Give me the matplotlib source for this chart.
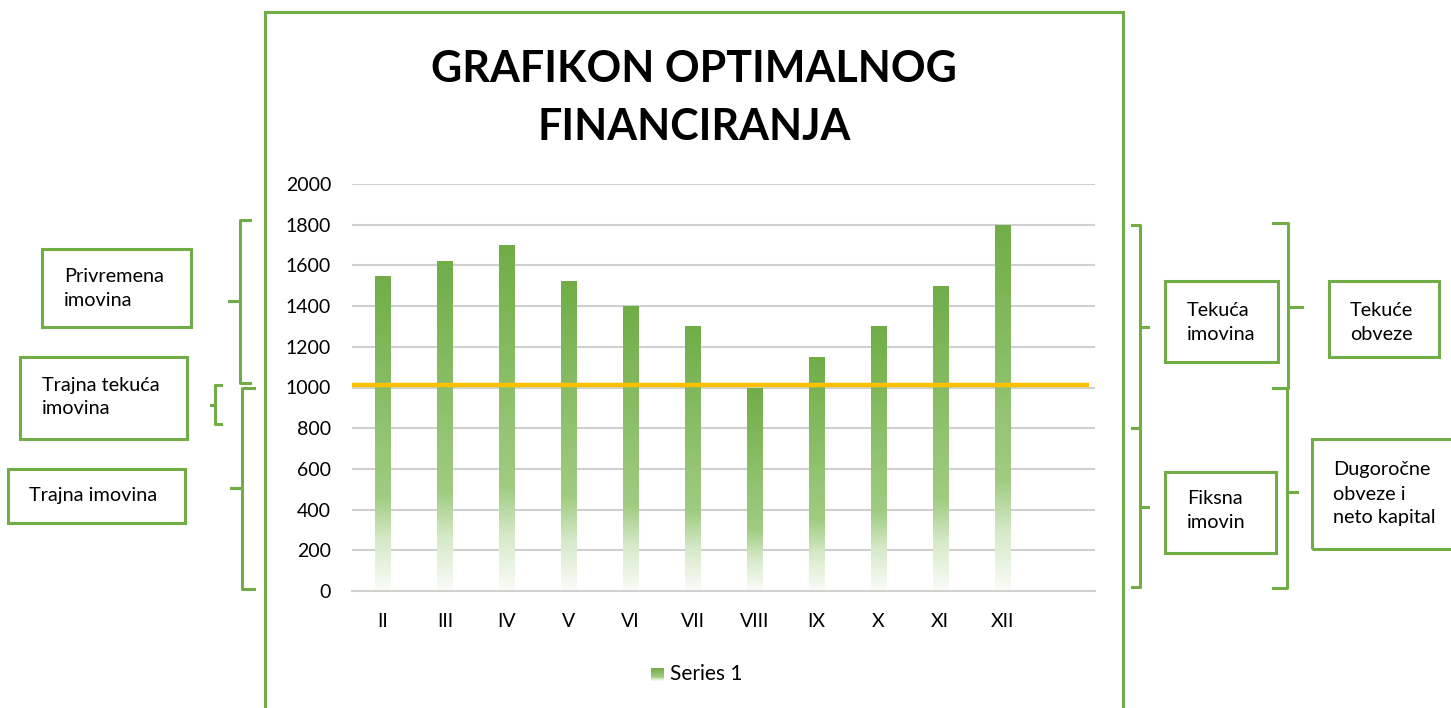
import matplotlib
matplotlib.use("Agg")
import matplotlib.pyplot as plt
import numpy as np
from matplotlib.patches import Rectangle
from matplotlib.colors import LinearSegmentedColormap
from matplotlib.lines import Line2D

plt.rcParams['font.family'] = ['Lato', 'DejaVu Sans']

# ---- data ----
categories = ["II", "III", "IV", "V", "VI", "VII", "VIII", "IX", "X", "XI", "XII", ""]
values = [1550, 1620, 1700, 1525, 1400, 1300, 1000, 1150, 1300, 1500, 1800, 0]
threshold = 1010
yticks = [0, 200, 400, 600, 800, 1000, 1200, 1400, 1600, 1800, 2000]
series_name = "Series 1"
title = "GRAFIKON OPTIMALNOG\nFINANCIRANJA"
left_boxes = ["Privremena\nimovina", "Trajna tekuća\nimovina", "Trajna imovina"]
right_boxes = ["Tekuća\nimovina", "Fiksna\nimovin", "Tekuće\nobveze", "Dugoročne\nobveze i\nneto kapital"]

GREEN = "#70AD47"
W, H = 1451, 708
fig = plt.figure(figsize=(W / 100, H / 100), dpi=100)

def fx(px):
    return px / W

def fy(py):
    return 1 - py / H

# gradient colormap (top -> bottom)
grad = LinearSegmentedColormap.from_list(
    "g", [(0.0, (112/255, 173/255, 71/255)),
          (0.70, (160/255, 204/255, 130/255)),
          (0.84, (214/255, 233/255, 200/255)),
          (1.0, (250/255, 252/255, 248/255))])
gimg = np.linspace(0, 1, 256).reshape(-1, 1)

# ---- main axes ----
ax = fig.add_axes([fx(352), fy(591), fx(1095 - 352), (591 - 184) / H])
x = np.arange(len(categories))
bars = ax.bar(x, values, width=0.245, color="none", edgecolor="none", zorder=2)
for b in bars:
    h = b.get_height()
    if h <= 0:
        continue
    x0 = b.get_x()
    im = ax.imshow(gimg, cmap=grad, aspect="auto", origin="upper",
                   extent=[x0, x0 + b.get_width(), 0, h], zorder=2, interpolation="bilinear")
    im.set_clip_path(b)
ax.set_xlim(-0.5, len(categories) - 0.5)
ax.set_ylim(0, 2000)
ax.set_yticks(yticks)
ax.set_yticklabels([str(t) for t in yticks])
ax.set_xticks(x)
ax.set_xticklabels(categories)
ax.tick_params(axis="both", length=0, labelsize=14, colors="#000000")
ax.tick_params(axis="y", pad=15)
ax.tick_params(axis="x", pad=16)
ax.grid(axis="y", color="#d0d0d0", linewidth=1.5, zorder=0)
ax.set_axisbelow(True)
for s in ["top", "right", "left"]:
    ax.spines[s].set_visible(False)
ax.spines["bottom"].set_color("#d0d0d0")
ax.spines["bottom"].set_linewidth(1.5)
ax.plot([-0.5, 11.4], [threshold, threshold], color="#FFC000", linewidth=3.2, zorder=3,
        solid_capstyle="butt")

# ---- chart border ----
fig.patches.append(Rectangle((fx(265), fy(712)), fx(1123 - 265), (712 - 12) / H,
                             transform=fig.transFigure, fill=False, edgecolor=GREEN,
                             linewidth=2.2))

# ---- title ----
fig.text(fx(694), fy(98), title, ha="center", va="center", fontsize=31,
         fontweight="bold", linespacing=1.55)

# ---- legend ----
lax = fig.add_axes([fx(651), fy(681), fx(13), 13 / H])
lax.imshow(gimg, cmap=grad, aspect="auto", extent=[0, 1, 0, 1])
lax.set_axis_off()
fig.text(fx(670), fy(674), series_name, ha="left", va="center", fontsize=15)

# ---- annotation boxes ----
def box(x0, y0, x1, y1, text, tx, tyc):
    fig.patches.append(Rectangle((fx(x0), fy(y1)), fx(x1 - x0), (y1 - y0) / H,
                                 transform=fig.transFigure, fill=False,
                                 edgecolor=GREEN, linewidth=2.2))
    fig.text(fx(tx), fy(tyc), text, ha="left", va="center", fontsize=14.3,
             linespacing=1.5)

box(42, 249, 191, 327, left_boxes[0], 64, 288)
box(20, 357, 187, 439, left_boxes[1], 42, 397)
box(8, 469, 185, 523, left_boxes[2], 29, 495)
box(1165, 281, 1278, 362, right_boxes[0], 1187, 322)
box(1165, 472, 1276, 553, right_boxes[1], 1187, 511)
box(1329, 281, 1439, 357, right_boxes[2], 1350, 322)
box(1312, 439, 1460, 549, right_boxes[3], 1333, 494)

# ---- braces ----
def brace(xv, xend, xtip, ytop, ybot, ytip):
    xs = [xend, xv, xv, xtip, xv, xv, xend]
    ys = [ytop, ytop, ytip, ytip, ytip, ybot, ybot]
    fig.add_artist(Line2D([fx(v) for v in xs], [fy(v) for v in ys],
                          transform=fig.transFigure, color=GREEN, linewidth=2.2,
                          solid_joinstyle="round"))

brace(240, 250, 229, 220, 383, 301)
brace(215, 221, 211, 385, 424, 405)
brace(242, 254, 231, 388, 589, 488)
brace(1140, 1132, 1148, 225, 428, 327)
brace(1140, 1132, 1148, 428, 587, 507)
brace(1288, 1273, 1302, 223, 388, 307)
brace(1287, 1273, 1297, 388, 588, 492)

fig.savefig("out.png", dpi=100, facecolor="white")
